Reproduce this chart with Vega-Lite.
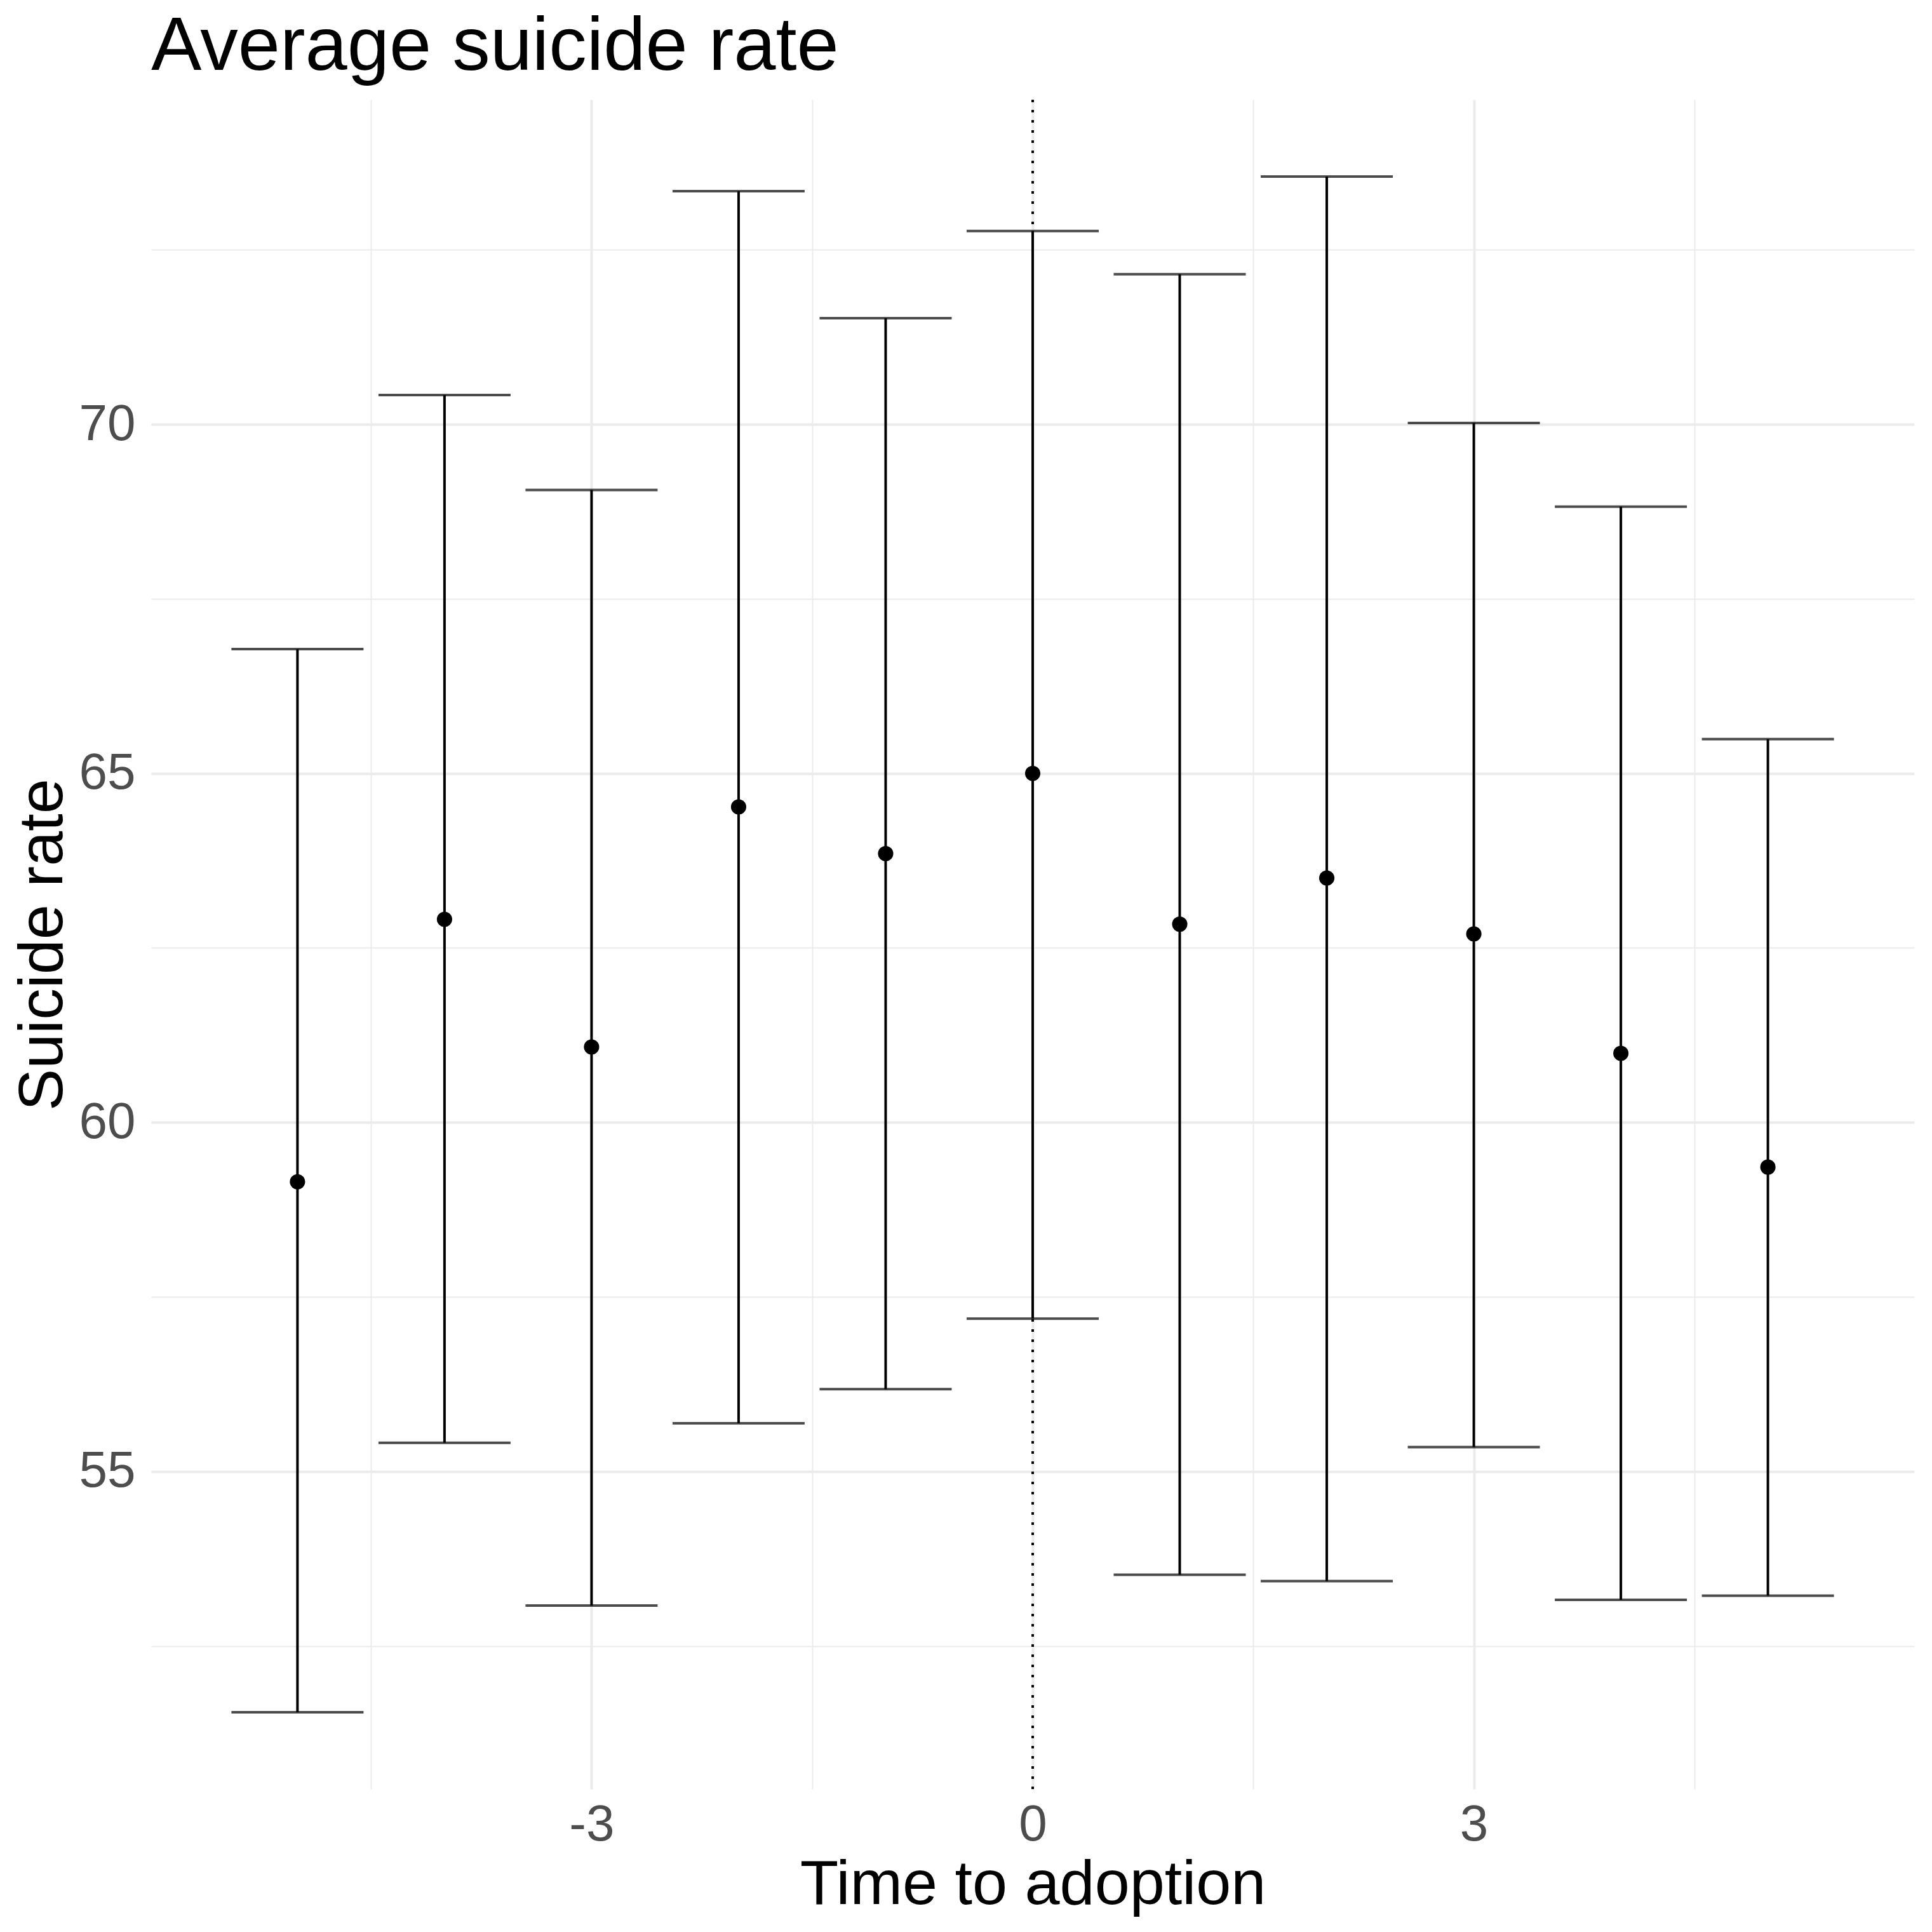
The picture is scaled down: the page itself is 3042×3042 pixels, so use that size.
{
  "$schema": "https://vega.github.io/schema/vega-lite/v6.json",
  "autosize": {"type": "none"},
  "width": 2776,
  "height": 2660,
  "padding": {"left": 238, "top": 157, "right": 28, "bottom": 225},
  "background": "white",
  "config": {
    "font": "Liberation Sans",
    "view": {"stroke": null},
    "axis": {"domain": false, "ticks": false, "tickSize": 0}
  },
  "title": {
    "text": "Average suicide rate",
    "anchor": "start",
    "frame": "group",
    "fontSize": 119,
    "fontWeight": "normal",
    "color": "black",
    "baseline": "alphabetic",
    "offset": -74
  },
  "data": {
    "values": [
      {"t": -5, "mean": 59.15, "lower": 51.55, "upper": 66.78},
      {"t": -4, "mean": 62.91, "lower": 55.41, "upper": 70.42},
      {"t": -3, "mean": 61.08, "lower": 53.08, "upper": 69.06},
      {"t": -2, "mean": 64.52, "lower": 55.69, "upper": 73.34},
      {"t": -1, "mean": 63.85, "lower": 56.18, "upper": 71.52},
      {"t": 0, "mean": 65.0, "lower": 57.19, "upper": 72.77},
      {"t": 1, "mean": 62.84, "lower": 53.52, "upper": 72.15},
      {"t": 2, "mean": 63.5, "lower": 53.43, "upper": 73.55},
      {"t": 3, "mean": 62.7, "lower": 55.35, "upper": 70.02},
      {"t": 4, "mean": 60.99, "lower": 53.16, "upper": 68.82},
      {"t": 5, "mean": 59.36, "lower": 53.22, "upper": 65.49}
    ]
  },
  "encoding": {
    "x": {
      "field": "t",
      "type": "quantitative",
      "scale": {"domain": [-5.995, 5.995], "nice": false, "zero": false},
      "axis": {
        "title": "Time to adoption",
        "titleFontSize": 99,
        "titleFontWeight": "normal",
        "titleColor": "black",
        "titlePadding": 6,
        "values": [-4.5, -3, -1.5, 0, 1.5, 3, 4.5],
        "labelExpr": "datum.value % 3 == 0 ? toString(datum.value) : ''",
        "labelFontSize": 80,
        "labelColor": "#4D4D4D",
        "labelPadding": 17,
        "grid": true,
        "gridColor": "#EBEBEB",
        "gridWidth": {"condition": {"test": "datum.value % 3 == 0", "value": 4}, "value": 2}
      }
    }
  },
  "layer": [
    {
      "mark": {"type": "rule", "color": "black", "strokeWidth": 4, "strokeDash": [4, 12]},
      "encoding": {"x": {"datum": 0}}
    },
    {
      "mark": {
        "type": "errorbar",
        "color": "black",
        "thickness": 4,
        "rule": {"strokeWidth": 4, "color": "black"},
        "ticks": {"size": 208, "thickness": 4, "color": "black"}
      },
      "encoding": {
        "y": {
          "field": "lower",
          "type": "quantitative",
          "scale": {"domain": [50.45, 74.65], "nice": false, "zero": false},
          "axis": {
            "title": "Suicide rate",
            "titleFontSize": 99,
            "titleFontWeight": "normal",
            "titleColor": "black",
            "titlePadding": 6,
            "values": [52.5, 55, 57.5, 60, 62.5, 65, 67.5, 70, 72.5],
            "labelExpr": "datum.value % 5 == 0 ? toString(datum.value) : ''",
            "labelFontSize": 80,
            "labelColor": "#4D4D4D",
            "labelPadding": 25,
            "grid": true,
            "gridColor": "#EBEBEB",
            "gridWidth": {"condition": {"test": "datum.value % 5 == 0", "value": 4}, "value": 2}
          }
        },
        "y2": {"field": "upper"}
      }
    },
    {
      "mark": {"type": "point", "filled": true, "shape": "circle", "color": "black", "opacity": 1, "size": 580},
      "encoding": {
        "y": {"field": "mean", "type": "quantitative"}
      }
    }
  ]
}
